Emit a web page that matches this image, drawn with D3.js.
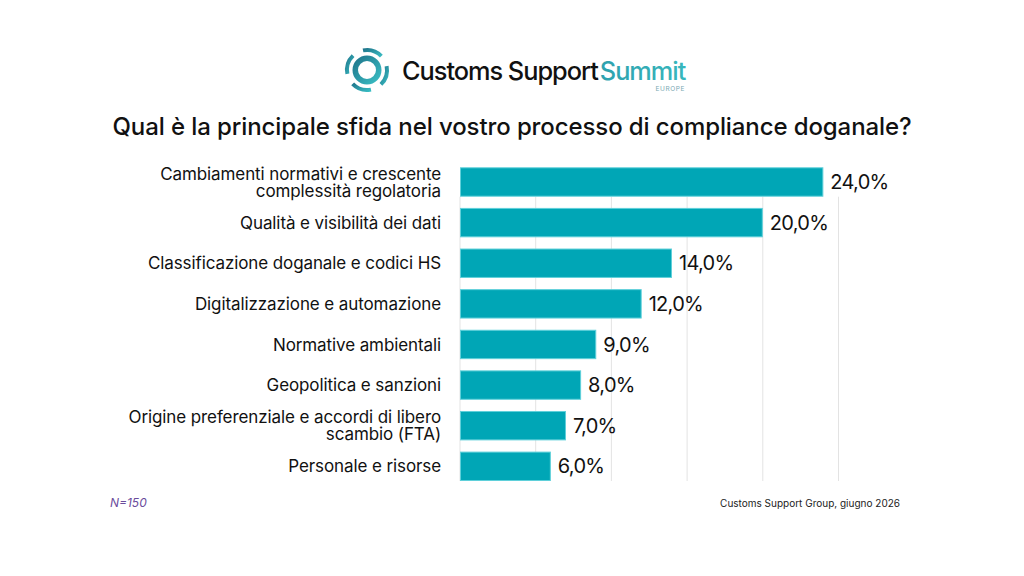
<!DOCTYPE html>
<html>
<head>
<meta charset="utf-8">
<script src="https://cdn.jsdelivr.net/npm/d3@7"></script>
<style>
  html, body { margin: 0; padding: 0; background: #fff; }
  svg { display: block; font-family: Inter, "Open Sans", sans-serif; }
</style>
</head>
<body>
<svg id="chart" width="1024" height="576"></svg>
<script>
"use strict";

var categories = [
  ["Cambiamenti normativi e crescente", "complessità regolatoria"],
  ["Qualità e visibilità dei dati"],
  ["Classificazione doganale e codici HS"],
  ["Digitalizzazione e automazione"],
  ["Normative ambientali"],
  ["Geopolitica e sanzioni"],
  ["Origine preferenziale e accordi di libero", "scambio (FTA)"],
  ["Personale e risorse"]
];
var values = [24.0, 20.0, 14.0, 12.0, 9.0, 8.0, 7.0, 6.0];
var gridTicks = [0, 5, 10, 15, 20, 25];

var TITLE = "Qual è la principale sfida nel vostro processo di compliance doganale?";
var NOTE = "N=150";
var SOURCE = "Customs Support Group, giugno 2026";

var BAR_FILL = "#00a6b6";
var BAR_STROKE = "#5fd0da";
var GRID = "#e3e3e3";

var svg = d3.select("#chart");

// Logo
var logo = svg.append("g").attr("transform", "translate(367,70)");
var defs = svg.append("defs");
var grad = defs.append("linearGradient").attr("id", "tealGrad")
  .attr("x1", "0%").attr("y1", "0%").attr("x2", "100%").attr("y2", "100%");
grad.append("stop").attr("offset", "0%").attr("stop-color", "#1d6f86");
grad.append("stop").attr("offset", "100%").attr("stop-color", "#3cc4c9");
var textGrad = defs.append("linearGradient").attr("id", "textGrad")
  .attr("x1", "0%").attr("y1", "0%").attr("x2", "100%").attr("y2", "0%");
textGrad.append("stop").attr("offset", "0%").attr("stop-color", "#1a6f8c");
textGrad.append("stop").attr("offset", "100%").attr("stop-color", "#38b7bd");

var arc = d3.arc();
logo.append("path")
  .attr("d", arc({ innerRadius: 9, outerRadius: 14.5, startAngle: 0, endAngle: 2 * Math.PI }))
  .attr("fill", "url(#tealGrad)");
var swirls = [0, 1, 2, 3];
swirls.forEach(function (k) {
  var a0 = k * Math.PI / 2 - 0.2;
  logo.append("path")
    .attr("d", arc({ innerRadius: 18, outerRadius: 22, startAngle: a0, endAngle: a0 + 1.0, cornerRadius: 1.8 }))
    .attr("fill", "url(#tealGrad)");
});

var brand = svg.append("text")
  .attr("x", 402).attr("y", 80)
  .attr("font-size", 25.3).attr("font-weight", 500)
  .attr("letter-spacing", -1);
brand.append("tspan").attr("fill", "#111").text("Customs Support");
brand.append("tspan").attr("fill", "url(#textGrad)").attr("dx", 2).text("Summit");
svg.append("text")
  .attr("x", 685).attr("y", 91)
  .attr("text-anchor", "end")
  .attr("font-size", 6.5).attr("letter-spacing", 0.6)
  .attr("fill", "#7aa9b3")
  .text("EUROPE");

// Title
svg.append("text")
  .attr("x", 512).attr("y", 135)
  .attr("text-anchor", "middle")
  .attr("font-size", 24).attr("font-weight", 500)
  .attr("letter-spacing", -0.1)
  .attr("fill", "#111")
  .text(TITLE);

// Scales
var x = d3.scaleLinear().domain([0, 25]).range([460, 838.5]);
var y = d3.scaleBand()
  .domain(d3.range(values.length))
  .range([167.3, 481])
  .paddingInner(0.276)
  .paddingOuter(0);

// Gridlines
svg.append("g")
  .selectAll("line")
  .data(gridTicks)
  .enter()
  .append("line")
  .attr("x1", function (d) { return x(d); })
  .attr("x2", function (d) { return x(d); })
  .attr("y1", y(0) + y.bandwidth())
  .attr("y2", y(values.length - 1) + y.bandwidth())
  .attr("stroke", GRID)
  .attr("stroke-width", 1);

// Bars
svg.append("g")
  .selectAll("rect")
  .data(values)
  .enter()
  .append("rect")
  .attr("x", x(0) + 0.5)
  .attr("y", function (d, i) { return y(i) + 0.5; })
  .attr("width", function (d) { return x(d) - x(0) - 1; })
  .attr("height", y.bandwidth() - 1)
  .attr("fill", BAR_FILL)
  .attr("stroke", BAR_STROKE)
  .attr("stroke-width", 1);

// Value labels
svg.append("g")
  .selectAll("text")
  .data(values)
  .enter()
  .append("text")
  .attr("x", function (d) { return x(d) + 7; })
  .attr("y", function (d, i) { return y(i) + y.bandwidth() / 2; })
  .attr("dy", "0.36em")
  .attr("font-size", 20)
  .attr("letter-spacing", -0.7)
  .attr("fill", "#111")
  .text(function (d) { return d.toFixed(1).replace(".", ",") + "%"; });

// Category labels
var labels = svg.append("g")
  .selectAll("text")
  .data(categories)
  .enter()
  .append("text")
  .attr("text-anchor", "end")
  .attr("font-size", 17)
  .attr("letter-spacing", -0.1)
  .attr("fill", "#111")
  .attr("transform", function (d, i) {
    return "translate(441," + (y(i) + y.bandwidth() / 2) + ")";
  });
labels.each(function (lines) {
  var t = d3.select(this);
  var lh = 17;
  lines.forEach(function (line, j) {
    t.append("tspan")
      .attr("x", 0)
      .attr("y", (j - (lines.length - 1) / 2) * lh)
      .attr("dy", "0.36em")
      .text(line);
  });
});

// Footer
svg.append("text")
  .attr("x", 110).attr("y", 507)
  .attr("font-size", 12).attr("font-style", "italic")
  .attr("fill", "#6a4c9c")
  .text(NOTE);
svg.append("text")
  .attr("x", 900).attr("y", 507)
  .attr("text-anchor", "end")
  .attr("font-size", 10)
  .attr("fill", "#222")
  .text(SOURCE);
</script>
</body>
</html>
